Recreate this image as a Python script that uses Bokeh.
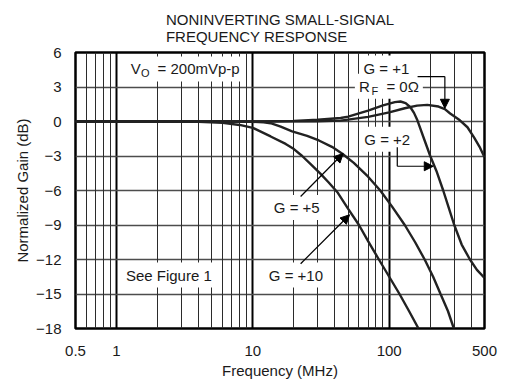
from bokeh.plotting import figure
from bokeh.models import (FixedTicker, CustomJSTickFormatter, Grid, Label, Arrow,
                          NormalHead, Title, Range1d)
from bokeh.embed import file_html
from bokeh.resources import INLINE

# ---------------- data ----------------
f_g1 = [0.5, 10, 30, 44, 70, 100, 130, 160, 190, 230, 256, 280, 330, 375, 420, 460, 500]
db_g1 = [0, 0, 0.02, 0.08, 0.4, 0.8, 1.15, 1.38, 1.45, 1.3, 1.08, 0.7, 0.1, -0.5, -1.4, -2.2, -3.1]

f_g2 = [0.5, 10, 20, 30, 44, 50, 70, 90, 110, 121, 132, 143, 152, 161, 180, 200, 222, 249, 275,
        300, 340, 391, 440, 500]
db_g2 = [0, 0, 0.05, 0.15, 0.3, 0.42, 0.95, 1.4, 1.68, 1.74, 1.6, 1.24, 0.75, 0.1, -1.5, -3.0,
         -4.3, -6.0, -7.6, -9.0, -10.7, -12.0, -12.9, -13.6]

f_g5 = [0.5, 8, 10, 12, 13.5, 16, 19.4, 25, 30.5, 38, 45.3, 55, 70, 86, 105, 130, 155, 182, 210,
        238, 270, 298]
db_g5 = [0, 0, -0.02, -0.08, -0.15, -0.45, -0.85, -1.25, -1.65, -2.2, -2.8, -3.6, -4.8, -6.0,
         -7.4, -9.0, -10.5, -12.0, -13.5, -15.0, -16.5, -18.0]

f_g10 = [0.5, 2, 4, 6, 8, 10, 13.5, 17.4, 20, 23, 27, 31.4, 36, 42, 50, 60, 70, 84, 100, 119,
         140, 164]
db_g10 = [0, 0, -0.03, -0.12, -0.3, -0.55, -1.3, -1.95, -2.4, -3.0, -3.8, -4.55, -5.3, -6.2,
          -7.6, -9.0, -10.4, -12.0, -13.5, -15.0, -16.5, -18.0]

x_ticks = [0.5, 1, 10, 100, 500]
y_ticks = [-18, -15, -12, -9, -6, -3, 0, 3, 6]
x_decades = [1, 10, 100]
x_minor = [0.6, 0.7, 0.8, 0.9, 2, 3, 4, 5, 6, 7, 8, 9, 20, 30, 40, 50, 60, 70, 80, 90,
           200, 300, 400]
title_lines = ["NONINVERTING SMALL-SIGNAL", "FREQUENCY RESPONSE"]

FONT = "Liberation Sans"
TXT = "#1a1a1a"
NB = "\u00a0"

p = figure(width=516, height=385, x_axis_type="log", output_backend="svg",
           toolbar_location=None, title=None,
           x_range=Range1d(0.5, 500), y_range=Range1d(-18, 6),
           min_border_left=75, min_border_right=32, min_border_top=52, min_border_bottom=57)
p.background_fill_color = "white"
p.border_fill_color = "white"
p.outline_line_color = "black"
p.outline_line_width = 2.5

# title (two lines)
p.add_layout(Title(text="\n".join(title_lines), align="center",
                   text_font=FONT, text_font_size="15px", text_font_style="normal",
                   text_color=TXT, text_line_height=1.0, standoff=16), "above")

# axes
for ax in (p.xaxis[0], p.yaxis[0]):
    ax.axis_line_color = None
    ax.major_tick_line_color = None
    ax.minor_tick_line_color = None
    ax.major_tick_out = 0
    ax.major_tick_in = 0
    ax.minor_tick_out = 0
    ax.major_label_text_font = FONT
    ax.major_label_text_font_size = "15px"
    ax.major_label_text_color = TXT
    ax.axis_label_text_font = FONT
    ax.axis_label_text_font_size = "15px"
    ax.axis_label_text_font_style = "normal"
    ax.axis_label_text_color = TXT

p.xaxis.ticker = FixedTicker(ticks=x_ticks)
p.xaxis.formatter = CustomJSTickFormatter(code="return tick.toString()")
p.xaxis.axis_label = "Frequency (MHz)"
p.xaxis.major_label_standoff = 17
p.xaxis.axis_label_standoff = 3

p.yaxis.ticker = FixedTicker(ticks=y_ticks)
p.yaxis.formatter = CustomJSTickFormatter(
    code="return tick < 0 ? '\\u2212' + Math.abs(tick) : tick.toString()")
p.yaxis.axis_label = "Normalized Gain (dB)"
p.yaxis.major_label_standoff = 14
p.yaxis.axis_label_standoff = 2

# grids
p.xgrid.ticker = FixedTicker(ticks=x_decades)
p.xgrid.grid_line_color = "black"
p.xgrid.grid_line_width = 2
p.ygrid.ticker = FixedTicker(ticks=y_ticks)
p.ygrid.grid_line_color = "#4d4d4d"
p.ygrid.grid_line_width = 1.5
p.add_layout(Grid(dimension=0, ticker=FixedTicker(ticks=x_minor),
                  grid_line_color="#2b2b2b", grid_line_width=1))

# curves
for fx, dy in ((f_g1, db_g1), (f_g2, db_g2), (f_g5, db_g5), (f_g10, db_g10)):
    p.line(fx, dy, line_color="#222222", line_width=2.4)


def lab(x, y, text, align="center", size="15px", bg=True, yo=0):
    kw = dict(x=x, y=y, text=text, text_font=FONT, text_font_size=size, text_color=TXT,
              text_align=align, text_baseline="middle", y_offset=yo)
    if bg:
        kw.update(background_fill_color="white", padding=4)
    p.add_layout(Label(**kw))


# annotations (data-unit positions)
lab(1.19, 4.57, "V" + NB * 4 + "= 200mVp-p", align="left")
lab(1.512, 4.57, "O", align="left", size="11px", bg=False, yo=-4)
lab(56.0, 3.06, "R" + NB * 4 + "= 0\u03a9", align="left")
lab(74.3, 3.06, "F", align="left", size="11px", bg=False, yo=-5)
lab(95.3, 4.65, "G = +1")
lab(96.8, -1.55, "G = +2")
lab(20.98, -7.48, "G = +5")
lab(20.7, -13.35, "G = +10")
lab(2.418, -13.35, "See Figure 1")


def seg(x0, y0, x1, y1, head=False):
    end = NormalHead(size=9, fill_color="black", line_color="black", line_width=1) if head else None
    p.add_layout(Arrow(x_start=x0, y_start=y0, x_end=x1, y_end=y1, end=end,
                       line_color="black", line_width=1.2))


seg(161.5, 3.91, 256, 3.91)
seg(256, 3.91, 256, 1.15, head=True)
seg(114.6, -2.23, 114.6, -3.89)
seg(114.6, -3.89, 210.5, -3.89, head=True)
seg(22.4, -6.52, 45.9, -2.78, head=True)
seg(22.4, -12.37, 51.2, -8.11, head=True)

open("out.html", "w", encoding="utf-8").write(file_html(p, INLINE))
